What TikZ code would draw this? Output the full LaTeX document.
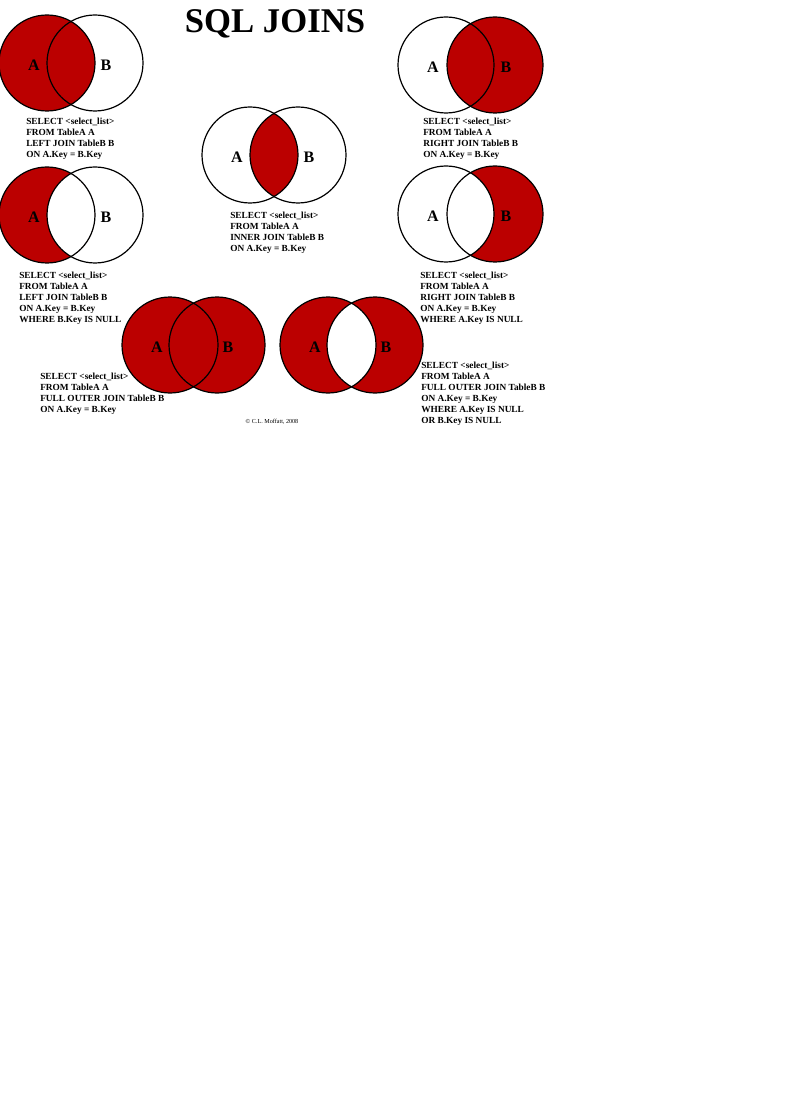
\documentclass[tikz,border=0pt]{standalone}
\usepackage{fontspec}
\setmainfont{Liberation Serif}
\usepackage{xcolor}
\usepackage{tikz}
\usetikzlibrary{positioning}

\definecolor{joinred}{RGB}{187,0,0}

\begin{document}
\begin{tikzpicture}[
      x=0.75pt, y=-0.75pt,
      ring/.style={draw=black, line width=0.9pt},
      shade/.style={fill=joinred},
      setlbl/.style={inner sep=0pt, font=\fontsize{12}{12}\selectfont\bfseries},
      query/.style={anchor=north west, inner sep=0pt, align=left, font=\fontsize{7}{8.25}\selectfont\bfseries},
      title/.style={anchor=base, inner sep=0pt, font=\fontsize{26}{26}\selectfont\bfseries}
    ]
    \useasboundingbox (0,0) rectangle (800,1112);

    % centres of the two sets, one pair per join
    \coordinate (ljA) at (47,63);   \coordinate (ljB) at (95,63);
    \coordinate (rjA) at (446,65);  \coordinate (rjB) at (495,65);
    \coordinate (ijA) at (250,155); \coordinate (ijB) at (298,155);
    \coordinate (lxA) at (47,215);  \coordinate (lxB) at (95,215);
    \coordinate (rxA) at (446,214); \coordinate (rxB) at (495,214);
    \coordinate (foA) at (170,345); \coordinate (foB) at (217,345);
    \coordinate (fxA) at (328,345); \coordinate (fxB) at (375,345);

    \node[title] (ttl) at (275,33) {SQL JOINS};

    % shaded regions
    \fill[shade] (ljA) circle (36pt);
    \fill[shade] (rjB) circle (36pt);
    \begin{scope}
      \clip (ijA) circle (36pt);
      \fill[shade] (ijB) circle (36pt);
    \end{scope}
    \begin{scope}
      \clip (lxA) circle (36pt);
      \fill[shade, even odd rule] (lxA) circle (36pt) (lxB) circle (36pt);
    \end{scope}
    \begin{scope}
      \clip (rxB) circle (36pt);
      \fill[shade, even odd rule] (rxA) circle (36pt) (rxB) circle (36pt);
    \end{scope}
    \fill[shade] (foA) circle (36pt) (foB) circle (36pt);
    \fill[shade, even odd rule] (fxA) circle (36pt) (fxB) circle (36pt);

    % outlines
    \foreach \j in {lj,rj,ij,lx,rx,fo,fx} {
      \draw[ring] (\j A) circle (36pt);
      \draw[ring] (\j B) circle (36pt);
      \node[setlbl] (\j lA) at ([xshift=-9.75pt, yshift=-1.5pt]\j A) {A};
      \node[setlbl] (\j lB) at ([xshift=8.25pt, yshift=-1.5pt]\j B) {B};
    }

    \node[query] (ljq) at (26,118)  {SELECT <select\_list>\\FROM TableA A\\LEFT JOIN TableB B\\ON A.Key = B.Key};
    \node[query] (rjq) at (423,118) {SELECT <select\_list>\\FROM TableA A\\RIGHT JOIN TableB B\\ON A.Key = B.Key};
    \node[query] (ijq) at (230,212) {SELECT <select\_list>\\FROM TableA A\\INNER JOIN TableB B\\ON A.Key = B.Key};
    \node[query] (lxq) at (19,272)  {SELECT <select\_list>\\FROM TableA A\\LEFT JOIN TableB B\\ON A.Key = B.Key\\WHERE B.Key IS NULL};
    \node[query] (rxq) at (420,272) {SELECT <select\_list>\\FROM TableA A\\RIGHT JOIN TableB B\\ON A.Key = B.Key\\WHERE A.Key IS NULL};
    \node[query] (foq) at (40,373)  {SELECT <select\_list>\\FROM TableA A\\FULL OUTER JOIN TableB B\\ON A.Key = B.Key};
    \node[query] (fxq) at (421,362) {SELECT <select\_list>\\FROM TableA A\\FULL OUTER JOIN TableB B\\ON A.Key = B.Key\\WHERE A.Key IS NULL\\OR B.Key IS NULL};

    \node[inner sep=0pt, font=\fontsize{4.6}{5}\selectfont] (copy) at (272,422) {© C.L. Moffatt, 2008};
  \end{tikzpicture}
\end{document}
